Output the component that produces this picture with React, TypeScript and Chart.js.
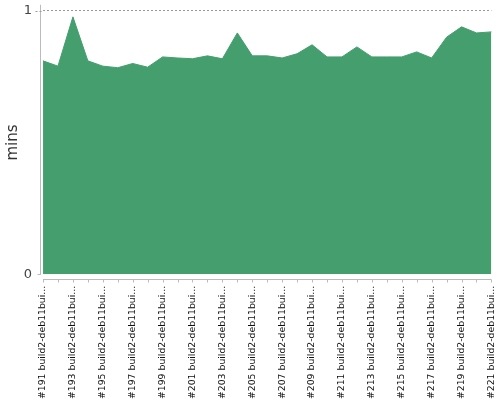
import React, { useEffect, useRef } from "react";
import { Chart, registerables } from "chart.js";

Chart.register(...registerables);

const buildNumbers = [
  191, 192, 193, 194, 195, 196, 197, 198, 199, 200, 201, 202, 203, 204, 205, 206,
  207, 208, 209, 210, 211, 212, 213, 214, 215, 216, 217, 218, 219, 220, 221,
];
const categories = buildNumbers.map((n) => `#${n} build2-deb11builder`);
const durations = [
  0.81, 0.79, 0.977, 0.81, 0.79, 0.784, 0.8, 0.786, 0.825, 0.821, 0.818, 0.829,
  0.818, 0.916, 0.829, 0.829, 0.821, 0.837, 0.871, 0.825, 0.825, 0.863, 0.825,
  0.825, 0.825, 0.844, 0.821, 0.9, 0.939, 0.916, 0.92,
];
const yTicks = [0, 1];

const AXIS_COLOR = "#bbbbbb";
const GRID_COLOR = "#999999";
const CLEAR = "rgba(0,0,0,0)";

// Draws detached (offset) axis lines with small tick marks, d3-style.
const offsetAxes = {
  id: "offsetAxes",
  afterDatasetsDraw(chart: any) {
    const { ctx, chartArea, scales } = chart;
    const xs = scales.x;
    const ys = scales.y;
    const gap = 3;
    const tick = 3;
    ctx.save();
    ctx.lineWidth = 1;
    ctx.strokeStyle = AXIS_COLOR;
    // y axis
    const ax = Math.round(chartArea.left - gap) + 0.5;
    ctx.beginPath();
    ctx.moveTo(ax, chartArea.top - 6);
    ctx.lineTo(ax, ys.getPixelForValue(yTicks[0]) + 0.5);
    ctx.stroke();
    ys.ticks.forEach((t: any) => {
      const py = Math.round(ys.getPixelForValue(t.value)) + 0.5;
      ctx.beginPath();
      if (t.value === yTicks[1]) {
        ctx.strokeStyle = GRID_COLOR;
        ctx.setLineDash([2, 2]);
        ctx.moveTo(ax - tick - 2, py);
        ctx.lineTo(chartArea.left, py);
      } else {
        ctx.strokeStyle = AXIS_COLOR;
        ctx.setLineDash([]);
        ctx.moveTo(ax - tick, py);
        ctx.lineTo(ax, py);
      }
      ctx.stroke();
    });
    ctx.setLineDash([]);
    ctx.strokeStyle = AXIS_COLOR;
    // x axis
    const ay = Math.round(chartArea.bottom + 5) + 0.5;
    ctx.beginPath();
    ctx.moveTo(chartArea.left, ay);
    ctx.lineTo(chartArea.right, ay);
    ctx.stroke();
    xs.ticks.forEach((_t: any, i: number) => {
      const px = Math.round(xs.getPixelForTick(i)) + 0.5;
      ctx.beginPath();
      ctx.moveTo(px, ay);
      ctx.lineTo(px, ay + tick);
      ctx.stroke();
    });
    ctx.restore();
  },
};

export default function App() {
  const ref = useRef<HTMLCanvasElement | null>(null);
  useEffect(() => {
    document.body.style.margin = "0";
    const ctx = ref.current!.getContext("2d")!;
    const chart = new Chart(ctx, {
      type: "line",
      data: {
        labels: categories,
        datasets: [
          {
            data: durations,
            fill: "origin",
            backgroundColor: "rgb(69,158,110)",
            borderColor: "rgb(69,158,110)",
            borderWidth: 1,
            pointRadius: 0,
            tension: 0,
          },
        ],
      },
      options: {
        animation: false,
        responsive: false,
        layout: { padding: { top: 4, right: 2, left: 0, bottom: 1 } },
        plugins: { legend: { display: false }, tooltip: { enabled: false } },
        scales: {
          x: {
            offset: false,
            border: { display: false },
            grid: {
              display: true,
              drawOnChartArea: false,
              drawTicks: true,
              tickLength: 11.5,
              color: CLEAR,
              tickColor: CLEAR,
            },
            ticks: {
              autoSkip: false,
              maxRotation: 90,
              minRotation: 90,
              padding: 0,
              color: "#111",
              font: { family: "DejaVu Sans", size: 9.3, lineHeight: 0.92 },
              callback: (_v: any, i: number) => {
                if (i % 2 !== 0) return "";
                const s = categories[i];
                return s.length > 20 ? s.slice(0, 20) + "..." : s;
              },
            },
          },
          y: {
            min: yTicks[0],
            max: yTicks[1],
            border: { display: false, dash: [2, 2] },
            grid: {
              color: (c: any) =>
                c.tick && c.tick.value === yTicks[1] ? GRID_COLOR : CLEAR,
              tickColor: CLEAR,
              drawTicks: true,
              tickLength: 8,
            },
            ticks: {
              stepSize: 1,
              padding: 3,
              color: "#444",
              font: { family: "DejaVu Sans", size: 13 },
            },
            title: {
              display: true,
              text: "mins",
              color: "#333",
              padding: { top: 5, bottom: 0 },
              font: { family: "DejaVu Sans", size: 15, lineHeight: 1.05 },
            },
          },
        },
      },
      plugins: [offsetAxes],
    });
    return () => chart.destroy();
  }, []);
  return <canvas ref={ref} width={500} height={400} />;
}
